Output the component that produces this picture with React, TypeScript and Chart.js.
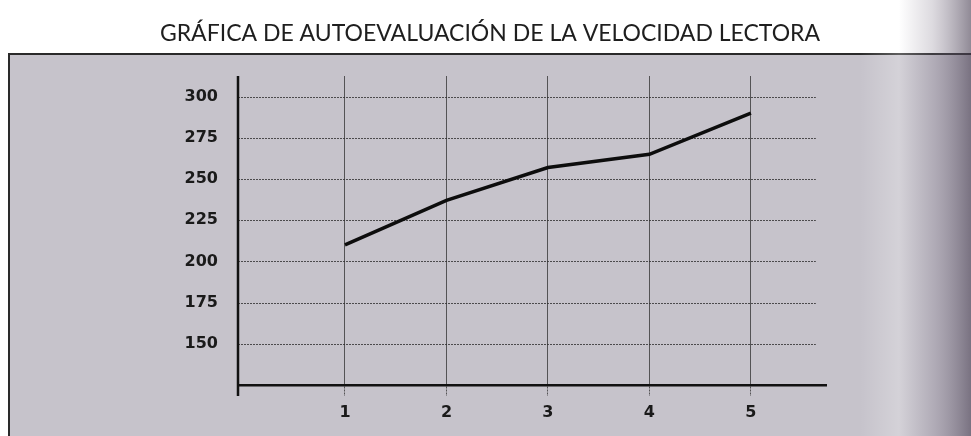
import React, { useEffect, useRef } from "react";
import { Chart, registerables } from "chart.js";

Chart.register(...registerables);

const chartTitle = "GRÁFICA DE AUTOEVALUACIÓN DE LA VELOCIDAD LECTORA";
const sessions = [1, 2, 3, 4, 5];
const readingSpeed = [210, 237, 257, 265, 290];
const yTickValues = [150, 175, 200, 225, 250, 275, 300];
const xTickValues = [1, 2, 3, 4, 5];
const gridEndX = 5.64;

const backgroundPlugin = {
  id: "paperBackground",
  beforeDraw(chart: any) {
    const { ctx, width, height } = chart;
    ctx.save();
    ctx.fillStyle = "#ffffff";
    ctx.fillRect(0, 0, width, height);
    ctx.fillStyle = "#c6c3cb";
    ctx.fillRect(9, 54, width - 9, height - 54);
    ctx.strokeStyle = "#2a2a2a";
    ctx.lineWidth = 2;
    ctx.beginPath();
    ctx.moveTo(9, height);
    ctx.lineTo(9, 54);
    ctx.lineTo(width, 54);
    ctx.stroke();
    const g = ctx.createLinearGradient(860, 0, width, 0);
    g.addColorStop(0, "rgba(255,255,255,0)");
    g.addColorStop(0.35, "rgba(255,255,255,0.25)");
    g.addColorStop(0.65, "rgba(120,110,130,0.25)");
    g.addColorStop(1, "rgba(70,60,80,0.6)");
    ctx.fillStyle = g;
    ctx.fillRect(860, 0, width - 860, height);
    ctx.restore();
  },
  beforeDatasetsDraw(chart: any) {
    const { ctx, chartArea, scales } = chart;
    const xEnd = scales.x.getPixelForValue(gridEndX);
    ctx.save();
    ctx.strokeStyle = "rgba(45,45,45,0.8)";
    ctx.lineWidth = 1;
    ctx.setLineDash([2, 1]);
    for (const v of yTickValues) {
      const y = Math.round(scales.y.getPixelForValue(v)) + 0.5;
      ctx.beginPath();
      ctx.moveTo(chartArea.left, y);
      ctx.lineTo(xEnd, y);
      ctx.stroke();
    }
    ctx.restore();
  },
  afterDraw(chart: any) {
    const { ctx, chartArea } = chart;
    ctx.save();
    ctx.fillStyle = "#1e1e1e";
    ctx.font = "23px Lato";
    ctx.textAlign = "center";
    ctx.textBaseline = "middle";
    ctx.fillText(chartTitle, 490, 34);
    ctx.strokeStyle = "#111111";
    ctx.lineWidth = 2.5;
    ctx.beginPath();
    ctx.moveTo(chartArea.left, chartArea.top);
    ctx.lineTo(chartArea.left, chartArea.bottom + 11);
    ctx.stroke();
    ctx.restore();
  },
};

export default function App() {
  const ref = useRef<HTMLCanvasElement>(null);
  useEffect(() => {
    if (!ref.current) return;
    const chart = new Chart(ref.current, {
      type: "line",
      data: {
        datasets: [
          {
            data: sessions.map((s, i) => ({ x: s, y: readingSpeed[i] })),
            borderColor: "#0d0d0d",
            borderWidth: 3.5,
            pointRadius: 0,
            tension: 0,
            fill: false,
          },
        ],
      },
      options: {
        animation: false,
        responsive: true,
        maintainAspectRatio: false,
        layout: { padding: { top: 76, right: 145, left: 0, bottom: 0 } },
        plugins: {
          legend: { display: false },
          title: { display: false },
          tooltip: { enabled: false },
        },
        scales: {
          x: {
            type: "linear",
            min: -0.054,
            max: 5.74,
            afterBuildTicks: (axis: any) => {
              axis.ticks = xTickValues.map((v) => ({ value: v }));
            },
            afterFit: (scale: any) => {
              scale.height = 51;
            },
            grid: {
              color: "rgba(45,45,45,0.75)",
              lineWidth: 1,
              borderDash: [2, 1],
              drawTicks: true,
              tickLength: 11,
              tickBorderDash: [2, 1],
              tickColor: "rgba(45,45,45,0.75)",
            },
            border: { display: true, color: "#111111", width: 2.5 },
            ticks: {
              color: "#1a1a1a",
              font: { family: "DejaVu Sans", weight: "bold", size: 16 },
              padding: 7,
              maxRotation: 0,
            },
          },
          y: {
            type: "linear",
            min: 125,
            max: 312.5,
            afterBuildTicks: (axis: any) => {
              axis.ticks = yTickValues.map((v) => ({ value: v }));
            },
            afterFit: (scale: any) => {
              scale.width = 238;
            },
            grid: { display: false, drawTicks: false },
            border: { display: false },
            ticks: {
              color: "#1a1a1a",
              font: { family: "DejaVu Sans", weight: "bold", size: 16 },
              padding: 20,
            },
          },
        },
      },
      plugins: [backgroundPlugin],
    });
    return () => chart.destroy();
  }, []);
  return (
    <div style={{ position: "absolute", left: 0, top: 0, width: 971, height: 436 }}>
      <canvas ref={ref} />
    </div>
  );
}
